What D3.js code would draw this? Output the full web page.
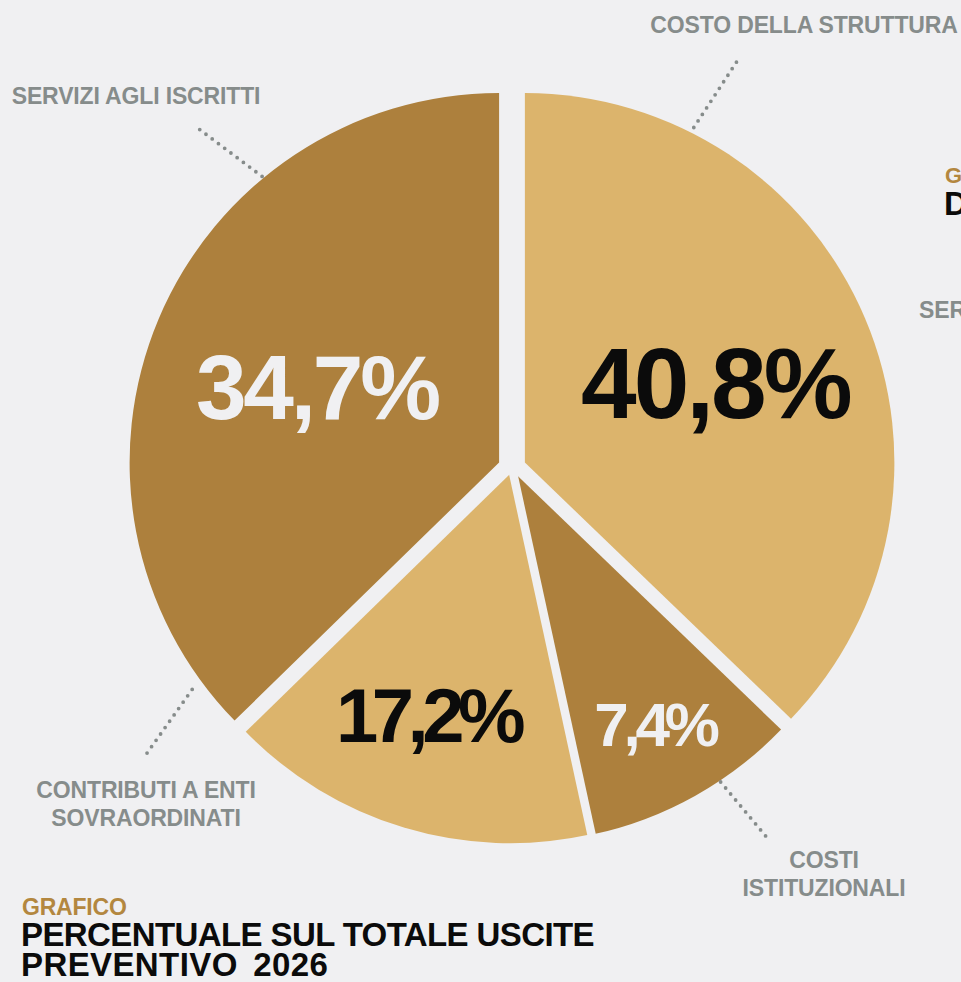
<!DOCTYPE html>
<html>
<head>
<meta charset="utf-8">
<script src="https://cdn.jsdelivr.net/npm/d3@7"></script>
<style>
  html, body { margin: 0; padding: 0; background: #f0f0f2; }
  svg { display: block; }
  text { font-family: "Liberation Sans", Arial, sans-serif; font-weight: 700; }
</style>
</head>
<body>
<svg id="chart" width="961" height="982"></svg>
<script>
// ---------------- DATA ----------------
const categories = ["COSTO DELLA STRUTTURA", "COSTI ISTITUZIONALI", "CONTRIBUTI A ENTI SOVRAORDINATI", "SERVIZI AGLI ISCRITTI"];
const categoryLines = [["COSTO DELLA STRUTTURA"], ["COSTI", "ISTITUZIONALI"], ["CONTRIBUTI A ENTI", "SOVRAORDINATI"], ["SERVIZI AGLI ISCRITTI"]];
const percentValues = [40.8, 7.4, 17.2, 34.7];
const percentLabels = ["40,8%", "7,4%", "17,2%", "34,7%"];
// slice sizes as actually drawn in the picture (share of the full circle, %)
const drawnShare = [37.2, 9.4, 16.1, 37.3];
const titleKicker = "GRAFICO";
const titleLines = ["PERCENTUALE SUL TOTALE USCITE", "PREVENTIVO 2026"];

// ---------------- STYLE / LAYOUT ----------------
const BG = "#f0f0f2", LIGHT = "#dcb46c", DARK = "#ad803d", GREY = "#868c8b", GOLD = "#b3873f", INK = "#0b0b0b";
const sliceFill = [LIGHT, DARK, LIGHT, DARK];
const labelFill = [INK, BG, INK, BG];
const labelSize = [100, 62, 76, 91];
const labelSpacing = [-0.03, -0.085, -0.085, -0.035];
const labelRadius = [0.56, 0.775, 0.69, 0.535];
const labelTurn = [0, 0, 2.2, 0]; // degrees
const cx = 512, cy = 468, R = 369.5;
const deg = Math.PI / 180;

const svg = d3.select("#chart");
svg.append("rect").attr("width", 961).attr("height", 982).attr("fill", BG);

const data = categories.map((c, i) => ({ cat: c, lines: categoryLines[i], share: drawnShare[i], value: percentValues[i], label: percentLabels[i], i }));
const pie = d3.pie().sort(null).value(d => d.share);
const arcs = pie(data);
const arcGen = d3.arc().innerRadius(0).outerRadius(R);
const polar = (a, r) => [Math.sin(a) * r, -Math.cos(a) * r];
const explode = d => (d.data.share > 25 ? 14 : 6);

const g = svg.append("g").attr("transform", `translate(${cx},${cy})`);

const slices = g.selectAll("g.slice").data(arcs).join("g")
  .attr("class", "slice")
  .attr("transform", d => {
    const [x, y] = polar((d.startAngle + d.endAngle) / 2, explode(d));
    return `translate(${x},${y})`;
  });
slices.append("path").attr("d", arcGen).attr("fill", (d, i) => sliceFill[i]);

// extra gap between the two slices that are only slightly pushed apart
arcs.forEach((d, i) => {
  const n = arcs[(i + 1) % arcs.length];
  if (explode(d) < 10 && explode(n) < 10) {
    const [x2, y2] = polar(d.endAngle, R + 40);
    g.append("line").attr("x1", 0).attr("y1", 0).attr("x2", x2).attr("y2", y2)
      .attr("stroke", BG).attr("stroke-width", 8.5);
  }
});

// percentage labels
slices.append("text")
  .attr("transform", d => {
    const a = (d.startAngle + d.endAngle) / 2 + labelTurn[d.index] * deg;
    const [x, y] = polar(a, R * labelRadius[d.index]);
    return `translate(${x},${y})`;
  })
  .attr("text-anchor", "middle")
  .attr("dy", "0.36em")
  .attr("font-size", d => labelSize[d.index])
  .attr("letter-spacing", d => labelSize[d.index] * labelSpacing[d.index])
  .attr("fill", d => labelFill[d.index])
  .text(d => d.data.label);

// category labels with dotted leaders: [angle, radius] of inner and outer ends
const leaderInner = [[28.1, 386], [146.4, 377], [235.3, 389], [319.4, 384]];
const leaderOuter = [[29.0, 470], [145.4, 449], [231.9, 466], [317.2, 465]];
const labelPos = [[804, 33], [824, 868], [146, 798], [136, 104]];
arcs.forEach((d, i) => {
  const [x1, y1] = polar(leaderInner[i][0] * deg, leaderInner[i][1]);
  const [x2, y2] = polar(leaderOuter[i][0] * deg, leaderOuter[i][1]);
  svg.append("line")
    .attr("x1", cx + x1).attr("y1", cy + y1).attr("x2", cx + x2).attr("y2", cy + y2)
    .attr("stroke", GREY).attr("stroke-width", 3.8)
    .attr("stroke-linecap", "round").attr("stroke-dasharray", "0 7.8");
  const t = svg.append("text")
    .attr("x", labelPos[i][0]).attr("y", labelPos[i][1])
    .attr("text-anchor", "middle").attr("font-size", 23)
    .attr("letter-spacing", -0.15).attr("fill", GREY);
  d.data.lines.forEach((ln, k) => {
    t.append("tspan").attr("x", labelPos[i][0]).attr("dy", k === 0 ? 0 : 28).text(ln);
  });
});

// title
svg.append("text").attr("x", 22).attr("y", 915).attr("font-size", 23)
  .attr("letter-spacing", -0.2).attr("fill", GOLD).text(titleKicker);
svg.append("text").attr("x", 21).attr("y", 946).attr("font-size", 33)
  .attr("letter-spacing", -0.6).attr("fill", INK).text(titleLines[0]);
svg.append("text").attr("x", 21).attr("y", 976).attr("font-size", 33)
  .attr("letter-spacing", 0.4).attr("word-spacing", 6).attr("fill", INK).text(titleLines[1]);

// neighbouring chart, cut off at the right edge
svg.append("text").attr("x", 945).attr("y", 183).attr("font-size", 22).attr("fill", GOLD).text("G");
svg.append("text").attr("x", 944).attr("y", 215).attr("font-size", 33).attr("fill", INK).text("D");
svg.append("text").attr("x", 919).attr("y", 318).attr("font-size", 23).attr("letter-spacing", -0.15).attr("fill", GREY).text("SER");
</script>
</body>
</html>
